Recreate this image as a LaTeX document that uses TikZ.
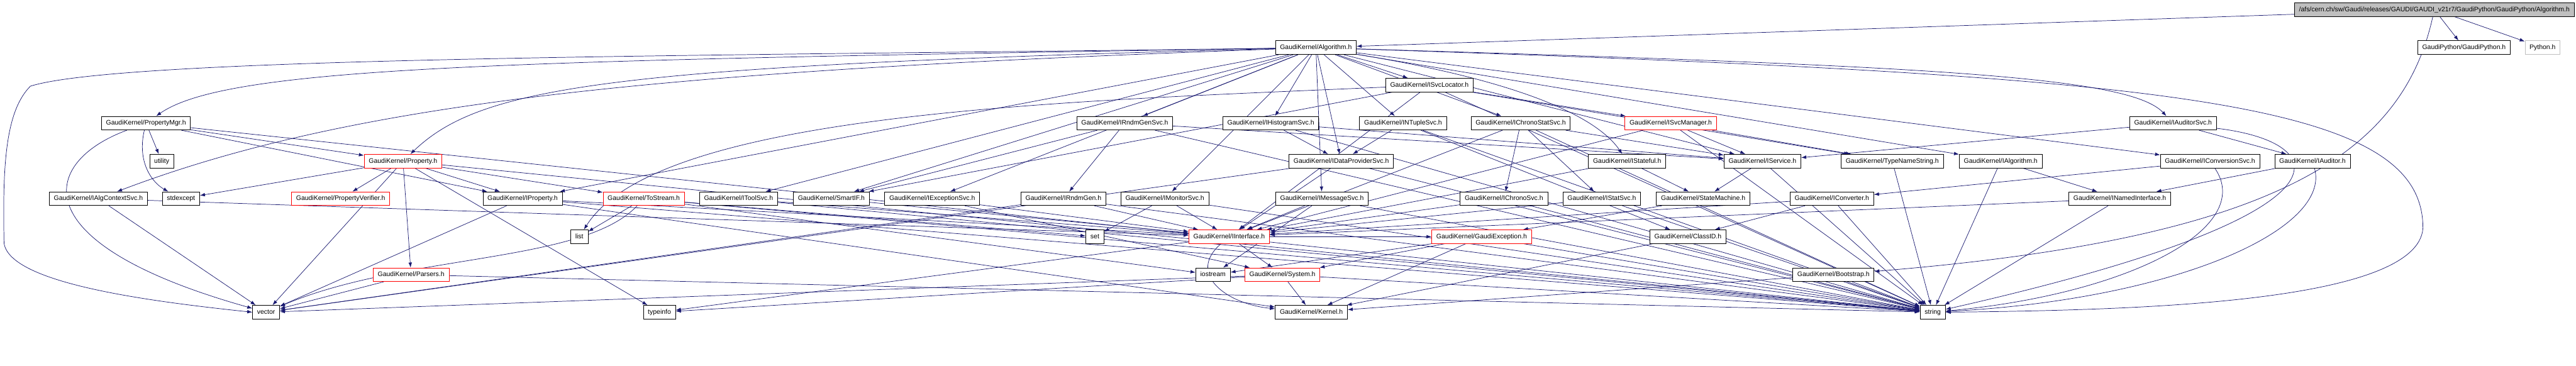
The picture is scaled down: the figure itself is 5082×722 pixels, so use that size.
\documentclass[tikz,border=0pt]{standalone}
\usepackage{fontspec}
\setmainfont{Liberation Sans}
\usetikzlibrary{arrows.meta,backgrounds}
\definecolor{edgeblue}{RGB}{25,25,112}
\definecolor{rootgray}{RGB}{191,191,191}

\begin{document}
\begin{tikzpicture}[x=1pt, y=-1pt,
    file/.style={draw=black, fill=white, line width=1pt, inner xsep=9pt, inner ysep=0pt,
        minimum height=27pt, text height=9.5pt, text depth=2.5pt,
        font=\fontsize{13}{15}\selectfont},
    cut/.style={file, draw=red},
    edge/.style={edgeblue, line width=0.9pt, -{Latex[length=10pt,width=7pt]}}]
    \useasboundingbox (0,0) rectangle (5082,722);

    % top rows
    \node[file, fill=rootgray, anchor=east] (root) at (5079,19) {/afs/cern.ch/sw/Gaudi/releases/GAUDI/GAUDI\_v21r7/GaudiPython/GaudiPython/Algorithm.h};
    \node[file] (algo) at (2596,94) {GaudiKernel/Algorithm.h};
    \node[file] (gpy) at (4861,94) {GaudiPython/GaudiPython.h};
    \node[file, draw=rootgray] (python) at (5016,94) {Python.h};
    \node[file] (svcloc) at (2820,168) {GaudiKernel/ISvcLocator.h};

    % row 3
    \node[file] (propmgr) at (288,243) {GaudiKernel/PropertyMgr.h};
    \node[file] (rndmgensvc) at (2219,243) {GaudiKernel/IRndmGenSvc.h};
    \node[file] (histsvc) at (2507,243) {GaudiKernel/IHistogramSvc.h};
    \node[file] (ntuplesvc) at (2768,243) {GaudiKernel/INTupleSvc.h};
    \node[file] (chronostatsvc) at (3000,243) {GaudiKernel/IChronoStatSvc.h};
    \node[cut] (svcmgr) at (3296,243) {GaudiKernel/ISvcManager.h};
    \node[file] (auditorsvc) at (4287,243) {GaudiKernel/IAuditorSvc.h};

    % row 4
    \node[file] (utility) at (319,318) {utility};
    \node[cut] (property) at (795,318) {GaudiKernel/Property.h};
    \node[file] (dataprovsvc) at (2646,318) {GaudiKernel/IDataProviderSvc.h};
    \node[file] (stateful) at (3210,318) {GaudiKernel/IStateful.h};
    \node[file] (service) at (3477,318) {GaudiKernel/IService.h};
    \node[file] (typename) at (3733,318) {GaudiKernel/TypeNameString.h};
    \node[file] (ialgorithm) at (3947,318) {GaudiKernel/IAlgorithm.h};
    \node[file] (conversionsvc) at (4360,318) {GaudiKernel/IConversionSvc.h};
    \node[file] (auditor) at (4562,318) {GaudiKernel/IAuditor.h};

    % row 5
    \node[file] (algctxsvc) at (194,392) {GaudiKernel/IAlgContextSvc.h};
    \node[file] (stdexcept) at (357,392) {stdexcept};
    \node[cut] (propverifier) at (672,392) {GaudiKernel/PropertyVerifier.h};
    \node[file] (iproperty) at (1031,392) {GaudiKernel/IProperty.h};
    \node[cut] (tostream) at (1270,392) {GaudiKernel/ToStream.h};
    \node[file] (toolsvc) at (1457,392) {GaudiKernel/IToolSvc.h};
    \node[file] (smartif) at (1640,392) {GaudiKernel/SmartIF.h};
    \node[file] (exceptionsvc) at (1839,392) {GaudiKernel/IExceptionSvc.h};
    \node[file] (rndmgen) at (2098,392) {GaudiKernel/IRndmGen.h};
    \node[file] (monitorsvc) at (2298,392) {GaudiKernel/IMonitorSvc.h};
    \node[file] (messagesvc) at (2608,392) {GaudiKernel/IMessageSvc.h};
    \node[file] (chronosvc) at (2967,392) {GaudiKernel/IChronoSvc.h};
    \node[file] (statsvc) at (3160,392) {GaudiKernel/IStatSvc.h};
    \node[file] (statemachine) at (3360,392) {GaudiKernel/StateMachine.h};
    \node[file] (converter) at (3614,392) {GaudiKernel/IConverter.h};
    \node[file] (namedif) at (4182,392) {GaudiKernel/INamedInterface.h};

    % row 6
    \node[file] (list) at (1143,467) {list};
    \node[file] (set) at (2160,467) {set};
    \node[cut] (interface) at (2425,467) {GaudiKernel/IInterface.h};
    \node[cut] (gaudiexc) at (2923,467) {GaudiKernel/GaudiException.h};
    \node[file] (classid) at (3330,467) {GaudiKernel/ClassID.h};

    % row 7
    \node[cut] (parsers) at (811,542) {GaudiKernel/Parsers.h};
    \node[file] (iostream) at (2393,542) {iostream};
    \node[cut] (system) at (2530,542) {GaudiKernel/System.h};
    \node[file] (bootstrap) at (3617,542) {GaudiKernel/Bootstrap.h};

    % row 8
    \node[file] (vector) at (525,616) {vector};
    \node[file] (typeinfo) at (1301,616) {typeinfo};
    \node[file] (kernel) at (2587,616) {GaudiKernel/Kernel.h};
    \node[file] (string) at (3813,616) {string};

    \begin{scope}[on background layer]
    % GaudiPython/Algorithm.h
    \draw[edge] (root) -- (algo);
    \draw[edge] (root) -- (gpy);
    \draw[edge] (root) -- (python);
    \draw[edge] (root) .. controls (4740,300) and (4500,470) .. (bootstrap);

    % GaudiKernel/Algorithm.h
    \draw[edge] (algo) .. controls (1000,120) and (450,130) .. (propmgr);
    \draw[edge] (algo) .. controls (1200,130) and (950,170) .. (property);
    \draw[edge] (algo) .. controls (1300,140) and (700,200) .. (algctxsvc);
    \draw[edge] (algo) -- (iproperty);
    \draw[edge] (algo) -- (toolsvc);
    \draw[edge] (algo) -- (smartif);
    \draw[edge] (algo) -- (exceptionsvc);
    \draw[edge] (algo) -- (rndmgensvc);
    \draw[edge] (algo) -- (monitorsvc);
    \draw[edge] (algo) -- (histsvc);
    \draw[edge] (algo) -- (dataprovsvc);
    \draw[edge] (algo) -- (ntuplesvc);
    \draw[edge] (algo) -- (svcloc);
    \draw[edge] (algo) -- (chronostatsvc);
    \draw[edge] (algo) .. controls (3000,160) and (3150,230) .. (stateful);
    \draw[edge] (algo) -- (messagesvc);
    \draw[edge] (algo) -- (service);
    \draw[edge] (algo) -- (ialgorithm);
    \draw[edge] (algo) .. controls (3800,130) and (4200,150) .. (auditorsvc);
    \draw[edge] (algo) -- (conversionsvc);
    \draw[edge] (algo) .. controls (1500,110) and (250,110) .. (60,170)
        .. controls (10,220) and (5,330) .. (8,480)
        .. controls (20,560) and (300,595) .. (vector.west);
    \draw[edge] (algo) .. controls (4300,150) and (4780,200) .. (4780,450)
        .. controls (4770,600) and (4200,612) .. (string.east);

    % ISvcLocator.h and ISvcManager.h
    \draw[edge] (svcloc) -- (svcmgr);
    \draw[edge] (svcloc) -- (typename);
    \draw[edge] (svcloc) .. controls (2100,200) and (1300,220) .. (list);
    \draw[edge] (svcloc) -- (smartif);
    \draw[edge] (svcloc) -- (interface);
    \draw[edge] (svcloc) -- (string);
    \draw[edge] (svcmgr) -- (service);
    \draw[edge] (svcmgr) -- (typename);
    \draw[edge] (svcmgr) -- (interface);
    \draw[edge] (svcmgr) -- (string);

    % PropertyMgr.h and Property.h
    \draw[edge] (propmgr) -- (utility);
    \draw[edge] (propmgr) .. controls (270,320) and (300,360) .. (stdexcept);
    \draw[edge] (propmgr) -- (property);
    \draw[edge] (propmgr) -- (iproperty);
    \draw[edge] (propmgr) .. controls (80,320) and (40,480) .. (vector);
    \draw[edge] (propmgr) -- (string);
    \draw[edge] (property) -- (propverifier);
    \draw[edge] (property) -- (parsers);
    \draw[edge] (property) -- (stdexcept);
    \draw[edge] (property) -- (vector);
    \draw[edge] (property) -- (iproperty);
    \draw[edge] (property) -- (tostream);
    \draw[edge] (property) -- (string);
    \draw[edge] (property) -- (typeinfo);

    % row 5 headers
    \draw[edge] (algctxsvc) -- (vector);
    \draw[edge] (algctxsvc) -- (interface);
    \draw[edge] (iproperty) -- (interface);
    \draw[edge] (iproperty) -- (string);
    \draw[edge] (iproperty) -- (vector);
    \draw[edge] (iproperty) -- (kernel);
    \draw[edge] (tostream) -- (list);
    \draw[edge] (tostream) -- (set);
    \draw[edge] (tostream) .. controls (1150,520) and (800,500) .. (vector);
    \draw[edge] (tostream) -- (iostream);
    \draw[edge] (tostream) -- (string);
    \draw[edge] (toolsvc) -- (interface);
    \draw[edge] (toolsvc) -- (string);
    \draw[edge] (smartif) -- (interface);
    \draw[edge] (exceptionsvc) -- (interface);
    \draw[edge] (exceptionsvc) -- (system);
    \draw[edge] (rndmgen) -- (interface);
    \draw[edge] (rndmgen) -- (vector);
    \draw[edge] (rndmgen) -- (string);
    \draw[edge] (monitorsvc) -- (set);
    \draw[edge] (monitorsvc) -- (interface);
    \draw[edge] (monitorsvc) -- (string);
    \draw[edge] (messagesvc) -- (interface);
    \draw[edge] (messagesvc) -- (iostream);
    \draw[edge] (messagesvc) -- (string);

    % services
    \draw[edge] (rndmgensvc) -- (rndmgen);
    \draw[edge] (rndmgensvc) -- (service);
    \draw[edge] (rndmgensvc) -- (smartif);
    \draw[edge] (rndmgensvc) -- (string);
    \draw[edge] (histsvc) -- (dataprovsvc);
    \draw[edge] (histsvc) -- (service);
    \draw[edge] (histsvc) -- (string);
    \draw[edge] (ntuplesvc) -- (dataprovsvc);
    \draw[edge] (ntuplesvc) -- (classid);
    \draw[edge] (ntuplesvc) -- (string);
    \draw[edge] (chronostatsvc) -- (chronosvc);
    \draw[edge] (chronostatsvc) -- (statsvc);
    \draw[edge] (chronostatsvc) -- (service);
    \draw[edge] (chronostatsvc) -- (interface);
    \draw[edge] (chronostatsvc) -- (string);
    \draw[edge] (chronosvc) -- (interface);
    \draw[edge] (chronosvc) -- (string);
    \draw[edge] (statsvc) -- (interface);
    \draw[edge] (statsvc) -- (string);
    \draw[edge] (dataprovsvc) -- (interface);
    \draw[edge] (dataprovsvc) -- (vector);
    \draw[edge] (dataprovsvc) -- (string);
    \draw[edge] (stateful) -- (statemachine);
    \draw[edge] (stateful) -- (interface);
    \draw[edge] (statemachine) -- (gaudiexc);
    \draw[edge] (service) -- (statemachine);
    \draw[edge] (service) -- (string);
    \draw[edge] (typename) -- (string);
    \draw[edge] (ialgorithm) -- (namedif);
    \draw[edge] (ialgorithm) -- (string);
    \draw[edge] (auditorsvc) -- (auditor);
    \draw[edge] (auditorsvc) -- (service);
    \draw[edge] (auditorsvc) .. controls (4600,280) and (4680,420) .. (string);
    \draw[edge] (auditor) -- (namedif);
    \draw[edge] (auditor) .. controls (4600,450) and (4300,590) .. (string);
    \draw[edge] (conversionsvc) -- (converter);
    \draw[edge] (conversionsvc) .. controls (4450,450) and (4200,580) .. (string);
    \draw[edge] (converter) -- (classid);
    \draw[edge] (converter) -- (interface);
    \draw[edge] (converter) -- (string);
    \draw[edge] (namedif) -- (interface);
    \draw[edge] (namedif) -- (string);

    % low level headers
    \draw[edge] (interface) -- (system);
    \draw[edge] (interface) .. controls (2340,540) and (2420,600) .. (kernel);
    \draw[edge] (interface) -- (gaudiexc);
    \draw[edge] (interface) -- (typeinfo);
    \draw[edge] (gaudiexc) -- (system);
    \draw[edge] (gaudiexc) -- (kernel);
    \draw[edge] (gaudiexc) -- (iostream);
    \draw[edge] (gaudiexc) -- (string);
    \draw[edge] (system) -- (kernel);
    \draw[edge] (system) -- (string);
    \draw[edge] (system) -- (vector);
    \draw[edge] (system) -- (typeinfo);
    \draw[edge] (classid) -- (kernel);
    \draw[edge] (bootstrap) -- (string);
    \draw[edge] (bootstrap) -- (kernel);
    \draw[edge] (parsers) -- (vector);
    \draw[edge] (parsers) -- (string);
    \end{scope}
\end{tikzpicture}
\end{document}
